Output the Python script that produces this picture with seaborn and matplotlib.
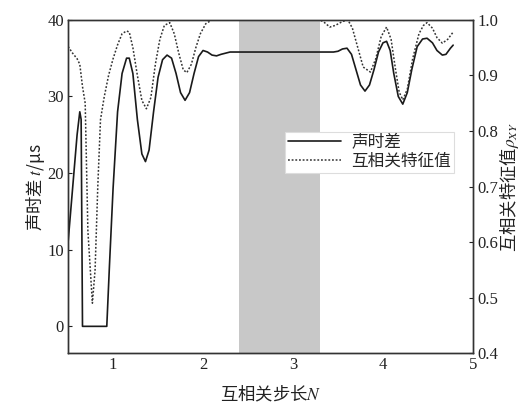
import matplotlib
matplotlib.use("Agg")
import matplotlib.pyplot as plt
import seaborn as sns
import pandas as pd

# Step length N (x) and acoustic time difference (left axis, μs)
step_t = [0.50, 0.55, 0.60, 0.63, 0.645, 0.66, 0.93, 0.96, 1.00, 1.05, 1.10, 1.15,
          1.18, 1.22, 1.27, 1.32, 1.36, 1.40, 1.45, 1.50, 1.55, 1.60, 1.65, 1.70,
          1.75, 1.80, 1.85, 1.90, 1.95, 2.00, 2.05, 2.10, 2.15, 2.20, 2.30, 3.45,
          3.50, 3.55, 3.60, 3.65, 3.70, 3.75, 3.80, 3.85, 3.90, 3.95, 4.00, 4.04,
          4.08, 4.12, 4.17, 4.22, 4.27, 4.32, 4.38, 4.44, 4.49, 4.55, 4.60, 4.66,
          4.70, 4.75, 4.78]
time_diff = [11, 18, 25, 28, 27, 0, 0, 8, 18, 28, 33, 35,
             35, 33, 27, 22.5, 21.5, 23, 28, 32.5, 34.8, 35.4, 35, 33,
             30.5, 29.5, 30.5, 33, 35.2, 36, 35.8, 35.4, 35.3, 35.5, 35.8, 35.8,
             35.9, 36.2, 36.3, 35.5, 33.5, 31.5, 30.7, 31.5, 33.5, 35.8, 37, 37.2,
             36, 33, 30, 29, 30.5, 33.5, 36.5, 37.5, 37.6, 37, 36, 35.4,
             35.5, 36.3, 36.7]

# Step length N (x) and cross-correlation eigenvalue (right axis)
step_r = [0.50, 0.55, 0.60, 0.63, 0.66, 0.69, 0.72, 0.77, 0.80, 0.83, 0.86, 0.90,
          0.95, 1.00, 1.05, 1.10, 1.15, 1.18, 1.22, 1.27, 1.32, 1.37, 1.42, 1.47,
          1.52, 1.57, 1.63, 1.68, 1.73, 1.78, 1.82, 1.87, 1.92, 1.97, 2.03, 2.10,
          3.30, 3.35, 3.41, 3.47, 3.55, 3.61, 3.66, 3.72, 3.78, 3.86, 3.92, 3.98,
          4.04, 4.09, 4.14, 4.18, 4.22, 4.27, 4.33, 4.40, 4.45, 4.49, 4.55, 4.60,
          4.66, 4.72, 4.78]
corr_val = [0.952, 0.94, 0.93, 0.92, 0.88, 0.85, 0.62, 0.49, 0.55, 0.70, 0.82, 0.86,
            0.90, 0.93, 0.955, 0.975, 0.98, 0.978, 0.95, 0.90, 0.855, 0.84, 0.86, 0.92,
            0.965, 0.99, 0.995, 0.975, 0.94, 0.91, 0.905, 0.92, 0.95, 0.975, 0.993, 1.0,
            1.0, 0.995, 0.987, 0.99, 0.997, 1.0, 0.985, 0.95, 0.915, 0.906, 0.93, 0.97,
            0.987, 0.965, 0.91, 0.87, 0.856, 0.875, 0.93, 0.975, 0.99, 0.995, 0.985, 0.968,
            0.958, 0.965, 0.978]

# Optimal step range (shaded band)
band = [2.4, 3.3]

xticks = [1, 2, 3, 4, 5]
yticks_left = [0, 10, 20, 30, 40]
yticks_right = [0.4, 0.5, 0.6, 0.7, 0.8, 0.9, 1.0]

sns.set_theme(style="white")
plt.rcParams["font.family"] = ["Liberation Serif", "Noto Sans CJK SC"]
plt.rcParams["mathtext.fontset"] = "stix"
plt.rcParams["xtick.direction"] = "in"
plt.rcParams["ytick.direction"] = "in"

df_t = pd.DataFrame({"N": step_t, "t": time_diff})
df_r = pd.DataFrame({"N": step_r, "rho": corr_val})

fig = plt.figure(figsize=(5.32, 4.05), dpi=100)
ax = fig.add_axes([0.128, 0.128, 0.761, 0.823])
ax2 = ax.twinx()

ax.axvspan(band[0], band[1], color="#c8c8c8", lw=0, zorder=0)

sns.lineplot(data=df_t, x="N", y="t", ax=ax, color="#1a1a1a", lw=1.2,
             label="声时差", legend=False, estimator=None, sort=False)
sns.lineplot(data=df_r, x="N", y="rho", ax=ax2, color="#333333", lw=1.1,
             linestyle=(0, (1.2, 1.2)), label="互相关特征值", legend=False,
             estimator=None, sort=False)

ax.set_xlim(0.5, 5)
ax.set_ylim(-3.5, 40)
ax2.set_ylim(0.4, 1.0)
ax.set_xticks(xticks)
ax.set_yticks(yticks_left)
ax2.set_yticks(yticks_right)
ax2.set_yticklabels([f"{v:.1f}" for v in yticks_right])

for a in (ax, ax2):
    a.tick_params(axis="both", which="both", length=3, width=0.8,
                  labelsize=12, colors="#222222", pad=3)
    for s in a.spines.values():
        s.set_color("#333333")
        s.set_linewidth(1.0)
ax.tick_params(axis="x", top=False)

# Labels mixing CJK text with math need a CJK-capable primary family
cjk = "Noto Sans CJK SC"
ax.set_xlabel("互相关步长$\\mathit{N}$", fontsize=12.5, labelpad=8,
              family=cjk, color="#222222")
ax.set_ylabel("声时差 $t$/μs", fontsize=12.5, labelpad=0,
              family=cjk, color="#222222")
ax2.set_ylabel("互相关特征值$\\rho_{XY}$", fontsize=12.5, labelpad=-1,
               rotation=90, family=cjk, color="#222222")

h1, l1 = ax.get_legend_handles_labels()
h2, l2 = ax2.get_legend_handles_labels()
leg = ax2.legend(h1 + h2, l1 + l2, loc="upper left", bbox_to_anchor=(0.535, 0.665),
                 fontsize=12, frameon=True, fancybox=False, framealpha=1,
                 edgecolor="#dddddd", handlelength=3.2, borderpad=0.2,
                 labelspacing=0.15, handletextpad=0.6, borderaxespad=0)
leg.get_frame().set_linewidth(0.8)

fig.savefig("out.png", dpi=100)
